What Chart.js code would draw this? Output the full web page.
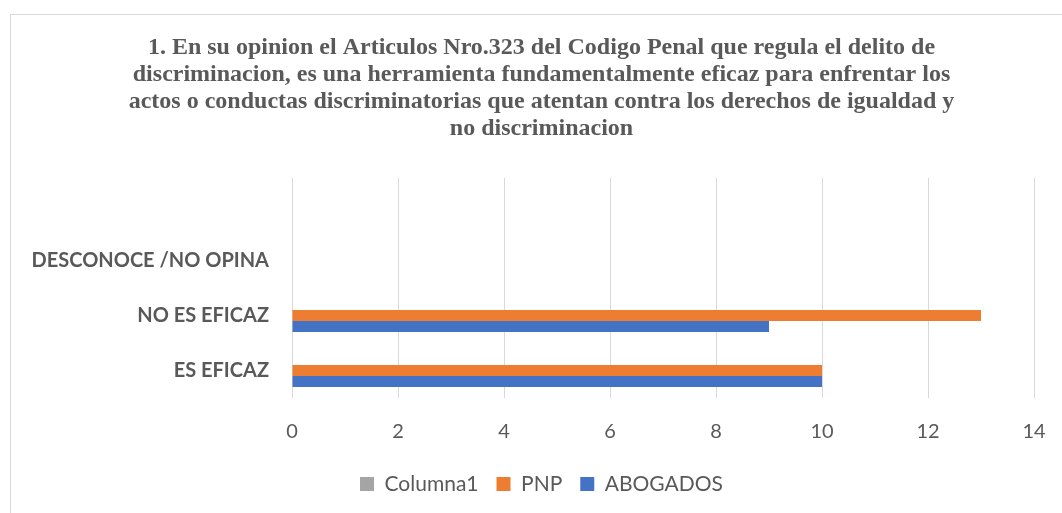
<!DOCTYPE html>
<html>
<head>
<meta charset="utf-8">
<script src="https://cdn.jsdelivr.net/npm/chart.js@4.4.1/dist/chart.umd.min.js"></script>
<style>
html,body{margin:0;padding:0;background:#fff;overflow:hidden;}
#wrap{position:absolute;left:0;top:0;width:1062px;height:513px;}
</style>
</head>
<body>
<div id="wrap"><canvas id="c" width="1062" height="513"></canvas></div>
<script>
const titleLines = [
  '1. En su opinion el Articulos Nro.323 del Codigo Penal que regula el delito de',
  'discriminacion, es una herramienta fundamentalmente eficaz para enfrentar los',
  'actos o conductas discriminatorias que atentan contra los derechos de igualdad y',
  'no discriminacion'
];
const categories = ['', 'DESCONOCE /NO OPINA', 'NO ES EFICAZ', 'ES EFICAZ'];
const columna1 = [null, null, null, null];
const pnp = [null, 0, 13, 10];
const abogados = [null, 0, 9, 10];
const xTicks = [0, 2, 4, 6, 8, 10, 12, 14];

const TEXT = '#595959';

const frame = {
  id: 'frame',
  beforeDraw(chart) {
    const ctx = chart.ctx;
    ctx.save();
    ctx.fillStyle = '#fff';
    ctx.fillRect(0, 0, chart.width, chart.height);
    ctx.strokeStyle = '#d9d9d9';
    ctx.lineWidth = 1;
    ctx.strokeRect(10.5, 14.5, 1200, 700);
    ctx.restore();
  },
  afterLayout(chart) {
    // let the category labels extend left past the axis box (no clipping)
    chart.scales.y._computeLabelArea = () => undefined;
  }
};

new Chart(document.getElementById('c'), {
  type: 'bar',
  data: {
    labels: categories,
    datasets: [
      { label: 'Columna1', data: columna1, backgroundColor: '#A5A5A5', borderWidth: 0 },
      { label: 'PNP', data: pnp, backgroundColor: '#ED7D31', borderWidth: 0 },
      { label: 'ABOGADOS', data: abogados, backgroundColor: '#4472C4', borderWidth: 0 }
    ]
  },
  options: {
    indexAxis: 'y',
    responsive: false,
    animation: false,
    layout: { padding: { left: 49, right: 28, top: 0, bottom: 8.5 } },
    categoryPercentage: 0.6,
    barPercentage: 1.0,
    scales: {
      x: {
        min: 0, max: 14,
        afterBuildTicks(scale) { scale.ticks = xTicks.map(v => ({ value: v })); },
        afterFit(scale) { scale.height = 57.5; scale.paddingRight = 0; scale.paddingLeft = 0; },
        grid: { display: true, color: '#d9d9d9', lineWidth: 1, drawTicks: false },
        border: { display: false },
        ticks: { color: TEXT, padding: 22, font: { family: 'Lato', size: 20 } }
      },
      y: {
        afterFit(scale) { scale.width = 243; },
        grid: { display: false, drawTicks: false },
        border: { display: false },
        ticks: { color: TEXT, padding: 23, font: { family: 'Lato', size: 20, weight: 'bold' } }
      }
    },
    plugins: {
      title: {
        display: true,
        text: titleLines,
        color: TEXT,
        font: { family: 'Liberation Serif', size: 24, weight: 'bold', lineHeight: 1.125 },
        padding: { top: 34, bottom: 36 }
      },
      legend: {
        display: true,
        position: 'bottom',
        labels: {
          color: TEXT,
          boxWidth: 14, boxHeight: 14,
          padding: 18,
          font: { family: 'Lato', size: 21 }
        }
      },
      tooltip: { enabled: false }
    }
  },
  plugins: [frame]
});
</script>
</body>
</html>
